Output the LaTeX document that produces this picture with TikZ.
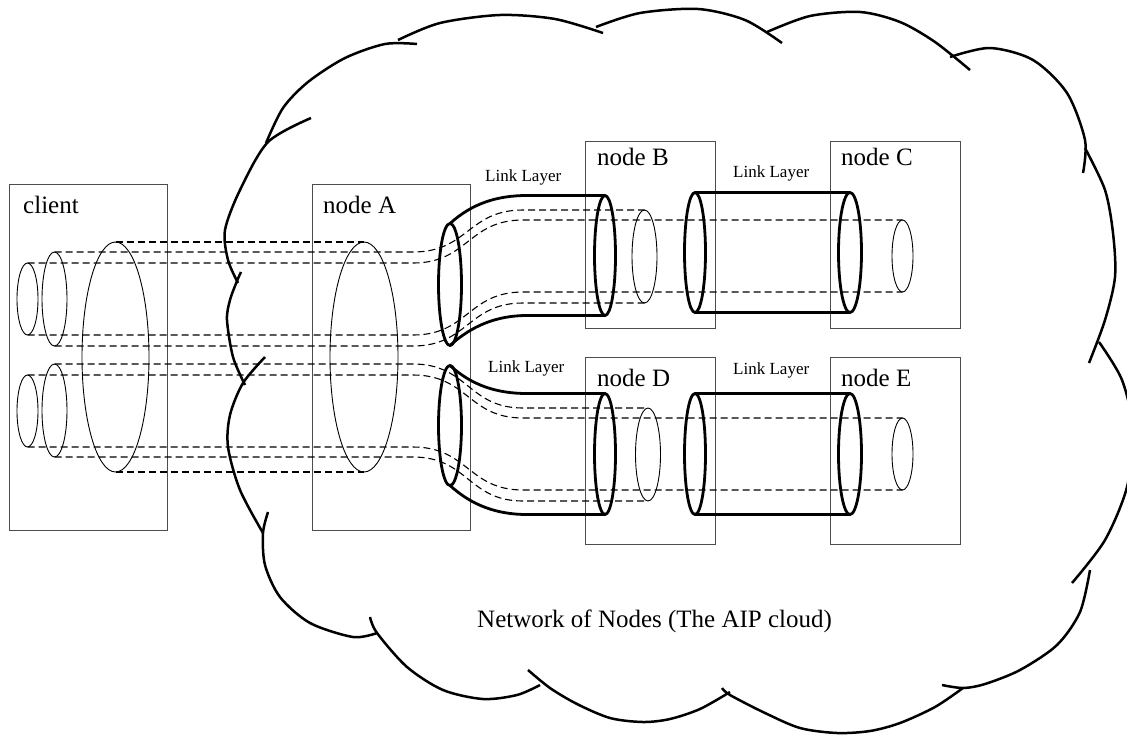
\documentclass[tikz,border=0pt]{standalone}
\usepackage{fontspec}
\setmainfont{Liberation Serif}
\usetikzlibrary{shapes.geometric}
\begin{document}
\begin{tikzpicture}[x=1pt,y=-1pt,
  boxshape/.style={draw=black!70, line width=0.9pt, rectangle, inner sep=0pt, outer sep=0pt},
  lbl/.style={anchor=base west, inner sep=0pt, font=\fontsize{25}{30}\selectfont},
  linklbl/.style={anchor=base west, inner sep=0pt, font=\fontsize{17}{20}\selectfont},
  thinell/.style={draw, ellipse, line width=0.9pt, inner sep=0pt, outer sep=0pt},
  thickell/.style={draw, ellipse, line width=2.8pt, inner sep=0pt, outer sep=0pt},
  tube/.style={line width=2.8pt},
  tunnel/.style={draw=black, line width=1.1pt, dash pattern=on 7pt off 4pt},
  cloudarc/.style={line width=2.5pt}
]
\clip (0,0) rectangle (1127,734);
\useasboundingbox (0,0) rectangle (1127,734);

% cloud
\draw[cloudarc] plot[smooth] coordinates {(266,143) (283,108) (308,82) (345,58) (385,44) (417,44)};
\draw[cloudarc] plot[smooth] coordinates {(398,40) (440,23) (500,15) (555,19) (603,33)};
\draw[cloudarc] plot[smooth] coordinates {(596,27) (640,13) (698,9) (745,20) (782,43)};
\draw[cloudarc] plot[smooth] coordinates {(767,32) (810,16) (860,12) (900,22) (935,42) (970,70)};
\draw[cloudarc] plot[smooth] coordinates {(950,57) (990,48) (1033,60) (1067,93) (1085,140) (1083,173)};
\draw[cloudarc] plot[smooth] coordinates {(1085,148) (1105,190) (1113,233) (1115,277) (1105,320) (1089,363)};
\draw[cloudarc] plot[smooth] coordinates {(1099,342) (1122,380) (1133,430) (1127,487) (1105,540) (1072,583)};
\draw[cloudarc] plot[smooth] coordinates {(1090,570) (1080,612) (1057,645) (1020,670) (985,684) (963,688) (942,685)};
\draw[cloudarc] plot[smooth] coordinates {(963,688) (935,707) (900,723) (870,731) (837,733) (800,728) (765,713) (730,695) (722,688)};
\draw[cloudarc] plot[smooth] coordinates {(730,692) (700,709) (670,719) (643,722) (610,718) (577,704) (550,688) (528,670)};
\draw[cloudarc] plot[smooth] coordinates {(540,685) (517,695) (483,699) (443,690) (407,667) (377,633) (370,617)};
\draw[cloudarc] plot[smooth] coordinates {(377,633) (353,637) (310,623) (280,597) (265,565) (263,533) (268,512)};
\draw[cloudarc] plot[smooth] coordinates {(265,357) (243,383) (230,415) (228,447) (240,490) (263,533)};
\draw[cloudarc] plot[smooth] coordinates {(241,272) (237,281) (230,300) (227,320) (233,357) (245,385)};
\draw[cloudarc] plot[smooth] coordinates {(311,118) (268,142) (240,190) (225,230) (228,260) (238,283)};

% boxes
\node[boxshape, minimum width=158pt, minimum height=346pt] (client) at (88,357) {};
\node[boxshape, minimum width=158pt, minimum height=346pt] (nodeA) at (391,357) {};
\node[boxshape, minimum width=130pt, minimum height=187pt] (nodeB) at (650,234.5) {};
\node[boxshape, minimum width=130pt, minimum height=187pt] (nodeC) at (895,234.5) {};
\node[boxshape, minimum width=130pt, minimum height=187pt] (nodeD) at (650,450.5) {};
\node[boxshape, minimum width=130pt, minimum height=187pt] (nodeE) at (895,450.5) {};

% labels
\node[lbl] (tclient) at (23,213) {client};
\node[lbl] (tA) at (323,213) {node A};
\node[lbl] (tB) at (597,165) {node B};
\node[lbl] (tC) at (841,165) {node C};
\node[lbl] (tD) at (597,386) {node D};
\node[lbl] (tE) at (841,386) {node E};
\node[linklbl] (lAB) at (485,181) {Link Layer};
\node[linklbl] (lBC) at (733,177) {Link Layer};
\node[linklbl] (lAD) at (488,372) {Link Layer};
\node[linklbl] (lDE) at (733,374) {Link Layer};
\node[lbl] (tnet) at (477,627) {Network of Nodes (The AIP cloud)};

% thin ellipses
\node[thinell, minimum width=21pt, minimum height=72pt] (cl1u) at (27.5,299) {};
\node[thinell, minimum width=25pt, minimum height=94pt] (cl2u) at (54.5,299) {};
\node[thinell, minimum width=21pt, minimum height=72pt] (cl1d) at (27.5,411) {};
\node[thinell, minimum width=25pt, minimum height=93pt] (cl2d) at (54.5,410.5) {};
\node[thinell, minimum width=67pt, minimum height=230pt] (clbig) at (115.5,357) {};
\node[thinell, minimum width=68pt, minimum height=230pt] (abig) at (364,357) {};
\node[thinell, minimum width=25pt, minimum height=93pt] (bsm) at (644.5,256.5) {};
\node[thinell, minimum width=21pt, minimum height=72pt] (csm) at (902.5,256) {};
\node[thinell, minimum width=25pt, minimum height=93pt] (dsm) at (648,454.5) {};
\node[thinell, minimum width=21pt, minimum height=72pt] (esm) at (902.5,454) {};

% thick tube ends
\node[thickell, minimum width=23pt, minimum height=122pt] (tabL) at (450,284.5) {};
\node[thickell, minimum width=21pt, minimum height=120pt] (tabR) at (605,255.5) {};
\node[thickell, minimum width=21pt, minimum height=120pt] (tbcL) at (695,252.5) {};
\node[thickell, minimum width=23pt, minimum height=120pt] (tbcR) at (850,252.5) {};
\node[thickell, minimum width=23pt, minimum height=120pt] (tadL) at (450,425.5) {};
\node[thickell, minimum width=21pt, minimum height=121pt] (tadR) at (605,454) {};
\node[thickell, minimum width=21pt, minimum height=121pt] (tdeL) at (695,454) {};
\node[thickell, minimum width=23pt, minimum height=121pt] (tdeR) at (850,454) {};

\coordinate (xe) at (527,0);
\draw[tube] (tabL.north) .. controls +(22,-20) and +(-30,0) .. (tabR.north -| xe) -- (tabR.north);
\draw[tube] (tabL.south) .. controls +(22,-20) and +(-30,0) .. (tabR.south -| xe) -- (tabR.south);
\draw[tube] (tbcL.north) -- (tbcR.north);
\draw[tube] (tbcL.south) -- (tbcR.south);
\draw[tube] (tadL.north) .. controls +(22,20) and +(-30,0) .. (tadR.north -| xe) -- (tadR.north);
\draw[tube] (tadL.south) .. controls +(22,20) and +(-30,0) .. (tadR.south -| xe) -- (tadR.south);
\draw[tube] (tdeL.north) -- (tdeR.north);
\draw[tube] (tdeL.south) -- (tdeR.south);

% dashed tunnels
\coordinate (xa) at (413,0);
\coordinate (xm) at (468,0);
\coordinate (xz) at (523,0);
\draw[tunnel] (cl2u.north) -- (cl2u.north -| xa) .. controls (cl2u.north -| xm) and (bsm.north -| xm) .. (bsm.north -| xz) -- (bsm.north);
\draw[tunnel] (cl1u.north) -- (cl1u.north -| xa) .. controls (cl1u.north -| xm) and (csm.north -| xm) .. (csm.north -| xz) -- (csm.north);
\draw[tunnel] (cl1u.south) -- (cl1u.south -| xa) .. controls (cl1u.south -| xm) and (csm.south -| xm) .. (csm.south -| xz) -- (csm.south);
\draw[tunnel] (cl2u.south) -- (cl2u.south -| xa) .. controls (cl2u.south -| xm) and (bsm.south -| xm) .. (bsm.south -| xz) -- (bsm.south);
\draw[tunnel] (cl2d.north) -- (cl2d.north -| xa) .. controls (cl2d.north -| xm) and (dsm.north -| xm) .. (dsm.north -| xz) -- (dsm.north);
\draw[tunnel] (cl1d.north) -- (cl1d.north -| xa) .. controls (cl1d.north -| xm) and (esm.north -| xm) .. (esm.north -| xz) -- (esm.north);
\draw[tunnel] (cl1d.south) -- (cl1d.south -| xa) .. controls (cl1d.south -| xm) and (esm.south -| xm) .. (esm.south -| xz) -- (esm.south);
\draw[tunnel] (cl2d.south) -- (cl2d.south -| xa) .. controls (cl2d.south -| xm) and (dsm.south -| xm) .. (dsm.south -| xz) -- (dsm.south);
\draw[tunnel] (clbig.north) -- (abig.north);
\draw[tunnel] (clbig.south) -- (abig.south);
\end{tikzpicture}
\end{document}
